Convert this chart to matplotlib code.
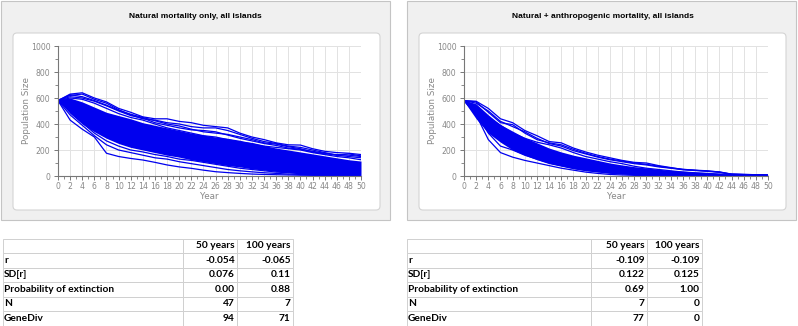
import matplotlib
matplotlib.use("Agg")
import matplotlib.pyplot as plt
from matplotlib.patches import Rectangle, FancyBboxPatch

# years sampled every 2
years = list(range(0, 51, 2))

# natural mortality only - dense core band and a few stray trajectories
nat_core_lo = [580, 480, 400, 340, 290, 250, 220, 200, 180, 160, 145, 125, 110,
               95, 80, 70, 55, 45, 35, 28, 20, 15, 10, 5, 3, 0]
nat_core_hi = [590, 600, 570, 530, 490, 465, 440, 410, 390, 370, 350, 330, 315,
               300, 290, 275, 255, 235, 215, 200, 185, 170, 155, 140, 125, 115]
nat_lines = [
    [580, 630, 640, 600, 570, 520, 490, 455, 440, 440, 420, 410, 390, 380, 370, 330, 300, 280, 255, 240, 238, 210, 190, 180, 175, 165],
    [580, 620, 630, 590, 560, 510, 470, 440, 430, 410, 400, 380, 370, 370, 350, 320, 290, 265, 250, 230, 220, 200, 180, 160, 150, 140],
    [580, 600, 590, 560, 520, 480, 450, 430, 400, 370, 350, 330, 310, 300, 280, 260, 250, 230, 220, 210, 200, 180, 165, 150, 140, 125],
    [580, 610, 600, 575, 540, 500, 465, 445, 410, 390, 370, 355, 350, 340, 315, 290, 270, 250, 235, 215, 205, 190, 175, 160, 170, 155],
    [580, 625, 610, 580, 545, 505, 475, 450, 425, 400, 385, 360, 340, 330, 320, 300, 280, 255, 245, 225, 210, 185, 170, 165, 160, 150],
    [580, 560, 500, 450, 400, 350, 320, 300, 270, 250, 230, 220, 200, 180, 160, 150, 130, 120, 100, 90, 80, 70, 60, 50, 45, 40],
    [580, 430, 360, 300, 175, 150, 135, 123, 105, 85, 70, 59, 45, 33, 26, 20, 15, 12, 10, 8, 6, 5, 4, 3, 2, 2],
    [580, 470, 390, 310, 240, 200, 180, 160, 140, 130, 110, 95, 80, 65, 50, 40, 32, 25, 20, 15, 12, 10, 8, 6, 5, 4],
    [580, 500, 410, 330, 270, 230, 200, 185, 165, 150, 130, 120, 105, 90, 75, 60, 50, 40, 30, 25, 18, 14, 10, 8, 6, 5],
]

# natural + anthropogenic mortality
ant_core_lo = [575, 440, 330, 260, 200, 160, 125, 95, 75, 55, 40, 30, 20,
               15, 10, 6, 4, 2, 1, 0, 0, 0, 0, 0, 0, 0]
ant_core_hi = [585, 555, 470, 395, 345, 295, 255, 215, 185, 160, 140, 120, 100,
               85, 72, 62, 52, 43, 38, 30, 26, 20, 14, 11, 9, 7]
ant_lines = [
    [580, 575, 520, 440, 410, 350, 310, 265, 255, 215, 185, 160, 140, 120, 105, 100, 80, 65, 50, 45, 40, 30, 15, 12, 10, 8],
    [580, 560, 500, 420, 380, 340, 290, 250, 230, 195, 170, 145, 125, 110, 95, 85, 70, 60, 48, 42, 38, 32, 14, 12, 10, 8],
    [580, 570, 490, 410, 395, 330, 280, 255, 240, 205, 175, 150, 130, 115, 100, 90, 75, 62, 52, 44, 36, 28, 13, 11, 9, 7],
    [580, 530, 450, 390, 330, 290, 260, 240, 215, 180, 150, 130, 110, 95, 75, 60, 50, 40, 30, 25, 20, 15, 12, 10, 8, 6],
    [580, 470, 280, 180, 145, 120, 100, 80, 60, 45, 30, 20, 12, 8, 5, 3, 2, 1, 0, 0, 0, 0, 0, 0, 0, 0],
    [580, 480, 330, 230, 200, 160, 130, 100, 80, 60, 45, 35, 25, 18, 12, 8, 5, 3, 2, 1, 0, 0, 0, 0, 0, 0],
    [580, 500, 360, 280, 230, 190, 150, 120, 95, 75, 55, 45, 35, 25, 18, 12, 8, 5, 3, 2, 1, 0, 0, 0, 0, 0],
]

# summary tables
row_labels = ["r", "SD[r]", "Probability of extinction", "N", "GeneDiv"]
col_labels = ["50 years", "100 years"]
nat_table = [["-0.054", "-0.065"], ["0.076", "0.11"], ["0.00", "0.88"], ["47", "7"], ["94", "71"]]
ant_table = [["-0.109", "-0.109"], ["0.122", "0.125"], ["0.69", "1.00"], ["7", "0"], ["77", "0"]]

W, H = 798, 326
fig = plt.figure(figsize=(W / 100, H / 100), dpi=100)

# background panels drawn in pixel coordinates
bg = fig.add_axes([0, 0, 1, 1])
bg.set_xlim(0, W)
bg.set_ylim(H, 0)
bg.axis("off")
for x0 in (1, 407):
    bg.add_patch(Rectangle((x0, 1), 389, 219, facecolor="#f0f0f0", edgecolor="#c4c4c4", lw=0.8))
    bg.add_patch(FancyBboxPatch((x0 + 12, 33), 367, 177, boxstyle="round,pad=0,rounding_size=4",
                                facecolor="white", edgecolor="#d4d4d4", lw=0.8))


def draw_panel(rect, title, title_x, lo, hi, lines):
    ax = fig.add_axes(rect)
    ax.fill_between(years, lo, hi, color="#0000ee", lw=0)
    for ln in lines:
        ax.plot(years, ln, color="#0000ee", lw=0.9)
    ax.set_xlim(0, 50)
    ax.set_ylim(0, 1000)
    ax.set_xticks(range(0, 51, 2))
    ax.set_xticks(range(0, 51), minor=True)
    ax.set_yticks(range(0, 1001, 200))
    ax.set_yticks(range(0, 1001, 100), minor=True)
    ax.grid(True, which="major", color="#e2e2e2", lw=0.7)
    ax.set_axisbelow(True)
    for s in ("top", "right"):
        ax.spines[s].set_visible(False)
    for s in ("left", "bottom"):
        ax.spines[s].set_color("#777777")
        ax.spines[s].set_linewidth(0.8)
    ax.tick_params(which="major", length=3, width=0.7, color="#777777", labelsize=5.6,
                   labelcolor="#888888", pad=1.5)
    ax.tick_params(axis="y", which="major", pad=2.5)
    ax.tick_params(which="minor", length=2, width=0.6, color="#777777")
    ax.set_xlabel("Year", fontsize=6.3, color="#888888", labelpad=0.5)
    ax.set_ylabel("Population Size", fontsize=6.3, color="#888888", labelpad=0)
    fig.text(title_x / W, 1 - 16 / H, title, ha="center", va="center", fontsize=6,
             fontweight="bold", family=["Liberation Sans Narrow", "Liberation Sans"])
    return ax


draw_panel([58 / W, 1 - 176 / H, 303 / W, 130 / H], "Natural mortality only, all islands",
           195, nat_core_lo, nat_core_hi, nat_lines)
draw_panel([464 / W, 1 - 176 / H, 304 / W, 130 / H], "Natural + anthropogenic mortality, all islands",
           603, ant_core_lo, ant_core_hi, ant_lines)


def draw_table(x0, widths, values):
    total = sum(widths)
    tax = fig.add_axes([x0 / W, 0.5 / H, total / W, 87 / H])
    tax.axis("off")
    cells = [[""] + col_labels] + [[lab] + vals for lab, vals in zip(row_labels, values)]
    tbl = tax.table(cellText=cells, colWidths=[w / total for w in widths], bbox=[0, 0, 1, 1])
    tbl.auto_set_font_size(False)
    for (r, c), cell in tbl.get_celld().items():
        cell.set_edgecolor("#d0d0d0")
        cell.set_linewidth(0.7)
        txt = cell.get_text()
        txt.set_fontsize(7.3)
        txt.set_family(["Lato", "DejaVu Sans"])
        txt.set_color("#000000")
        txt.set_fontweight("bold")
        if c == 0:
            cell._loc = "left"
            txt.set_ha("left")
            cell.PAD = 0.005
        else:
            cell._loc = "right"
            txt.set_ha("right")
            cell.PAD = 0.04


draw_table(3, [180, 54, 56], nat_table)
draw_table(407, [184, 56, 55], ant_table)

fig.savefig("out.png", dpi=100)
